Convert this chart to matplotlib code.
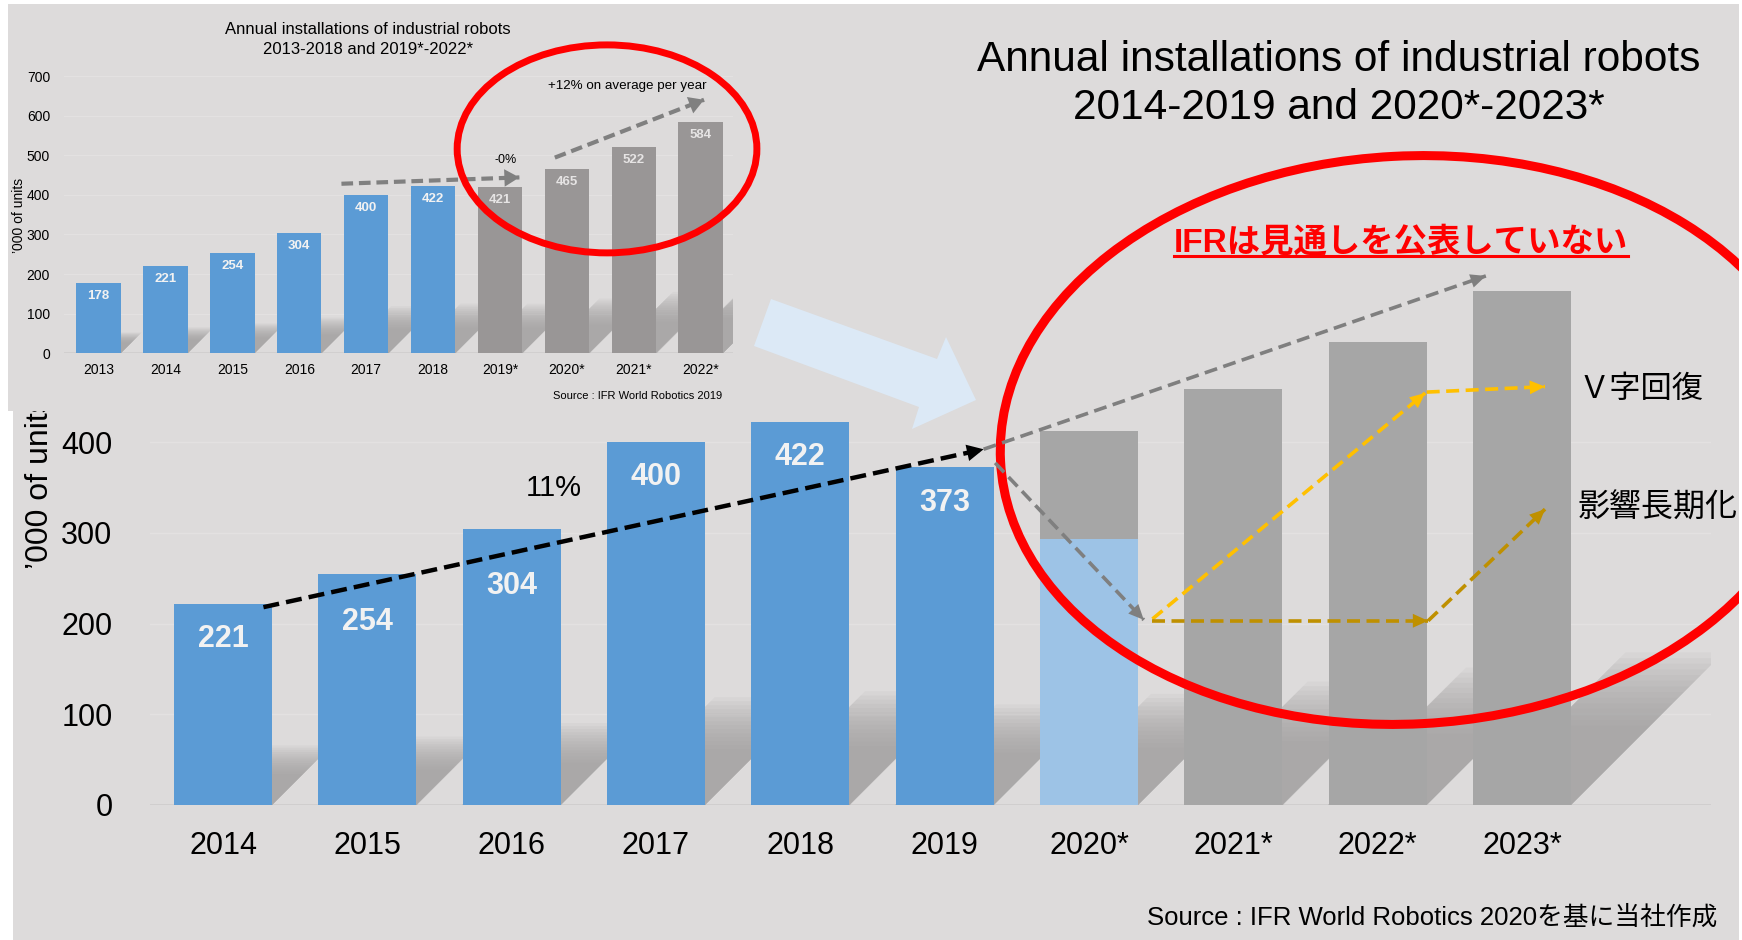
import numpy as np
import matplotlib
matplotlib.use("Agg")
import matplotlib.pyplot as plt
from matplotlib.patches import Ellipse, Polygon, Rectangle
from matplotlib.lines import Line2D
from matplotlib.transforms import IdentityTransform

plt.rcParams['font.family'] = ['Liberation Sans', 'Noto Sans CJK JP', 'DejaVu Sans']

W, H = 1742, 940
BG = '#dddbdb'
BLUE = '#5b9bd5'
LIGHT_BLUE = '#9dc3e6'
GRAY_MAIN = '#a6a6a6'
GRAY_INSET = '#999696'
SHADOW = '#9c9b9b'

# ---- main chart data ('000 of units) ----
years_main = ['2014', '2015', '2016', '2017', '2018', '2019',
              '2020*', '2021*', '2022*', '2023*']
actual_main = [221, 254, 304, 400, 422, 373]
forecast_main = [412, 458, 510, 566]      # grey bars 2020*-2023*
covid_2020 = [293]                        # light blue part of 2020*
label_drop_px = [35, 48, 57, 35, 35, 36]  # how far the value labels sit below the bar tops

# ---- inset chart data (IFR World Robotics 2019) ----
years_inset = ['2013', '2014', '2015', '2016', '2017', '2018',
               '2019*', '2020*', '2021*', '2022*']
values_inset = [178, 221, 254, 304, 400, 422, 421, 465, 522, 584]
n_actual_inset = 6

# annotation paths: (bar index, '000 units)
black_trend = [(0.28, 218), (5.27, 392)]
gray_trend = [(5.27, 392), (8.75, 583)]
gray_drop = [(5.35, 377), (6.38, 204)]
v_recovery = [[(6.44, 205), (8.33, 454)], [(8.34, 455), (9.16, 461)]]
long_impact = [[(6.44, 203), (8.35, 203)], [(8.35, 203), (9.16, 326)]]
inset_flat = [(3.63, 428), (6.29, 444)]
inset_growth = [(6.82, 494), (9.05, 640)]


def fx(px):
    return px / W


def fy(py):
    return 1 - py / H


def dashed_arrow(ax, path, color, lw, dashes, hl, hw, ms=20):
    (x0, y0), (x1, y1) = path
    ax.plot([x0, x1], [y0, y1], color=color, lw=lw, ls=(0, dashes),
            solid_capstyle='butt', dash_capstyle='butt', clip_on=False, zorder=6)
    back = (x1 - 0.02 * (x1 - x0), y1 - 0.02 * (y1 - y0))
    ax.annotate('', xy=(x1, y1), xytext=back, annotation_clip=False,
                arrowprops=dict(arrowstyle='-|>,head_length=%s,head_width=%s' % (hl, hw),
                                color=color, lw=0, shrinkA=0, shrinkB=0,
                                mutation_scale=ms), zorder=7)


def shadows(ax, values, width, px_idx, px_val, frac=0.22):
    # soft slanted floor shadow: many faint layers
    for k in np.linspace(1.35, 0.7, 14):
        for i, v in enumerate(values):
            h = frac * v * k
            s = h * px_val / px_idx
            xl, xr = i - width / 2, i + width / 2
            ax.add_patch(Polygon([(xl, 0), (xr, 0), (xr + s, h), (xl + s, h)],
                                 closed=True, fc=SHADOW, ec='none', alpha=0.09, zorder=1))


fig = plt.figure(figsize=(W / 100, H / 100), dpi=100, facecolor=BG)

# ================= main chart =================
PX_IDX, PX_VAL = 144.3, 0.9075
ax = fig.add_axes([fx(150), fy(805), fx(1561), 805 / H])
ax.set_facecolor('none')
ax.set_xlim(-0.506, 10.31)
ax.set_ylim(0, 805 / PX_VAL)
for s in ax.spines.values():
    s.set_visible(False)

for g in [100, 200, 300, 400]:
    ax.axhline(g, color='#e3e1e1', lw=1, zorder=0.5)
ax.axhline(0, color='#cfcdcd', lw=2, zorder=0.6)

x_act = np.arange(len(actual_main))
x_fc = np.arange(len(actual_main), len(years_main))
bw = 0.68
all_main = actual_main + forecast_main
shadows(ax, all_main, bw, PX_IDX, PX_VAL)
ax.bar(x_act, actual_main, width=bw, color=BLUE, zorder=2)
ax.bar(x_fc, forecast_main, width=bw, color=GRAY_MAIN, zorder=2)
ax.bar(x_fc[:1], covid_2020, width=bw, color=LIGHT_BLUE, zorder=2.1)

for i, v in enumerate(actual_main):
    ax.annotate(str(v), (i, v), xytext=(0, -label_drop_px[i] * 0.72),
                textcoords='offset points', ha='center', va='center',
                color='#f2f2f2', fontsize=22, fontweight='bold', zorder=3)

ax.set_xticks(range(len(years_main)))
ax.set_xticklabels(years_main, fontsize=22)
ax.set_yticks([0, 100, 200, 300, 400])
ax.set_yticklabels(['0', '100', '200', '300', '400'], fontsize=22)
ax.tick_params(axis='x', length=0, pad=19)
ax.tick_params(axis='y', length=0, pad=27)

ax.text(fx(40), fy(483), '\u2019000 of units', rotation=90, ha='center', va='center',
        fontsize=23, transform=fig.transFigure)
ax.text(fx(554), fy(488), '11%', ha='center', va='center', fontsize=21,
        transform=fig.transFigure)

# light blue block arrow pointing from the inset to the forecast area
blk = [(771, 299), (937, 359), (946, 337), (976, 400), (912, 429), (919, 407), (754, 346)]
ax.add_patch(Polygon([(fx(a), fy(b)) for a, b in blk], closed=True,
                     transform=fig.transFigure, fc='#dce9f6', ec='none', zorder=1.5))

dashed_arrow(ax, black_trend, 'black', 3.2, (3.6, 1.6), 0.6, 0.3)
dashed_arrow(ax, gray_trend, '#7f7f7f', 2.6, (3.6, 1.8), 0.55, 0.25)
dashed_arrow(ax, gray_drop, '#7f7f7f', 2.6, (3.6, 1.8), 0.55, 0.25)
for seg in v_recovery:
    dashed_arrow(ax, seg, '#ffc000', 2.6, (3.6, 1.8), 0.55, 0.25)
for seg in long_impact:
    dashed_arrow(ax, seg, '#bf9000', 2.6, (3.6, 1.8), 0.55, 0.25)

# big hand-drawn style red ellipse (pixel space, slightly tilted)
big = Ellipse((1408, H - 440), 816, 568, angle=3, fill=False, ec='#ff0000', lw=6.5,
              transform=IdentityTransform(), zorder=5)
ax.add_patch(big)
big.set_clip_on(False)

fig.text(fx(1339), fy(70.7), 'Annual installations of industrial robots',
         ha='center', va='baseline', fontsize=30.5)
fig.text(fx(1339), fy(119), '2014-2019 and 2020*-2023*',
         ha='center', va='baseline', fontsize=30.5)

red_t = fig.text(fx(1401), fy(252), 'IFRは見通しを公表していない', ha='center',
                 va='baseline', fontsize=24, fontweight='bold', color='#ff0000',
                 family=['Liberation Sans', 'Noto Sans CJK JP'])
fig.text(fx(1578), fy(389), 'Ｖ字回復', ha='left', va='center', fontsize=22.5,
         family=['Noto Sans CJK JP'])
fig.text(fx(1578), fy(508), '影響長期化', ha='left', va='center', fontsize=23,
         family=['Noto Sans CJK JP'])
fig.text(fx(1717), fy(925), 'Source : IFR World Robotics 2020を基に当社作成',
         ha='right', va='baseline', fontsize=18.5,
         family=['Liberation Sans', 'Noto Sans CJK JP'])

# ================= inset panel (older forecast) =================
panel = fig.add_axes([fx(8), fy(411), fx(725), 407 / H])
panel.set_facecolor(BG)
panel.set_xticks([])
panel.set_yticks([])
for s in panel.spines.values():
    s.set_visible(False)

IPX_IDX, IPX_VAL = 66.9, 0.396
axi = fig.add_axes([fx(64), fy(353.3), fx(669), 277.3 / H])
axi.set_facecolor('none')
axi.set_xlim(-0.517, 9.483)
axi.set_ylim(0, 700)
for s in axi.spines.values():
    s.set_visible(False)
for g in range(100, 701, 100):
    axi.axhline(g, color='#e3e1e1', lw=0.8, zorder=0.5)
axi.axhline(0, color='#cfcdcd', lw=1.2, zorder=0.6)

ibw = 0.664
shadows(axi, values_inset, ibw, IPX_IDX, IPX_VAL)
xi = np.arange(len(values_inset))
cols = [BLUE] * n_actual_inset + [GRAY_INSET] * (len(values_inset) - n_actual_inset)
axi.bar(xi, values_inset, width=ibw, color=cols, zorder=2)
for i, v in enumerate(values_inset):
    axi.annotate(str(v), (i, v), xytext=(0, -9.4), textcoords='offset points',
                 ha='center', va='center', fontsize=9.5, fontweight='bold',
                 color='#f2f2f2' if i < n_actual_inset else '#e6e4e4', zorder=3)
axi.set_xticks(xi)
axi.set_xticklabels(years_inset, fontsize=10)
axi.set_yticks(range(0, 701, 100))
axi.set_yticklabels([str(v) for v in range(0, 701, 100)], fontsize=10)
axi.tick_params(axis='x', length=0, pad=7)
axi.tick_params(axis='y', length=0, pad=10)

axi.text(fx(368), fy(29.5), 'Annual installations of industrial robots',
         ha='center', va='center', fontsize=12, transform=fig.transFigure)
axi.text(fx(368), fy(50), '2013-2018 and 2019*-2022*',
         ha='center', va='center', fontsize=12, transform=fig.transFigure)
axi.text(fx(19), fy(215), '\u2019000 of units', rotation=90, ha='center', va='center',
         fontsize=10, transform=fig.transFigure)
axi.text(fx(722), fy(396), 'Source : IFR World Robotics 2019', ha='right',
         va='center', fontsize=8, transform=fig.transFigure)
axi.text(6.08, 488, '-0%', ha='center', va='center', fontsize=9)
axi.text(7.9, 675, '+12% on average per year', ha='center', va='center', fontsize=9.6)

dashed_arrow(axi, inset_flat, '#808080', 3.0, (2.8, 1.4), 0.6, 0.35, ms=18)
dashed_arrow(axi, inset_growth, '#808080', 3.0, (2.8, 1.4), 0.6, 0.35, ms=18)

small = Ellipse((7.6, 516), 4.48, 525, fill=False, ec='#ff0000', lw=5, zorder=8)
axi.add_patch(small)
small.set_clip_on(False)

# white page margins
for x0, y0, w, h in [(0, 0, W, 4), (0, 0, 8, 411), (0, 411, 13, H - 411), (W - 3, 0, 3, H)]:
    fig.add_artist(Rectangle((fx(x0), fy(y0 + h)), w / W, h / H, transform=fig.transFigure,
                             fc='white', ec='none', zorder=20))

# underline for the red heading
fig.canvas.draw()
bb = red_t.get_window_extent()
fig.add_artist(Line2D([bb.x0 / W, bb.x1 / W], [fy(256), fy(256)],
                      transform=fig.transFigure, color='#ff0000', lw=2.2, zorder=9))

fig.savefig('out.png', dpi=100, facecolor=BG)
